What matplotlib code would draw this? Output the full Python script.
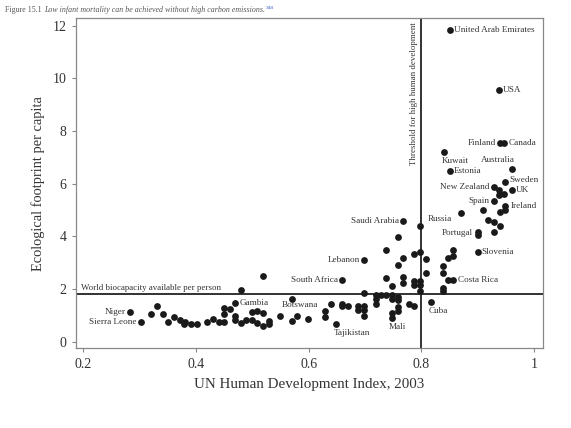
import matplotlib
matplotlib.use("Agg")
import matplotlib.pyplot as plt

# unlabelled countries (HDI 2003, footprint per capita)
hdi = [0.320, 0.331, 0.341, 0.351, 0.361, 0.371, 0.380, 0.378, 0.391, 0.401,
       0.420, 0.431, 0.440, 0.450, 0.450, 0.450, 0.460, 0.470, 0.470, 0.480,
       0.480, 0.489, 0.499, 0.499, 0.509, 0.509, 0.519, 0.519, 0.529, 0.529,
       0.519, 0.549, 0.570, 0.580, 0.599, 0.629, 0.629, 0.639, 0.659, 0.659,
       0.669, 0.687, 0.687, 0.699, 0.699, 0.699, 0.699, 0.719, 0.719, 0.719,
       0.729, 0.738, 0.748, 0.748, 0.758, 0.758, 0.778, 0.787, 0.758, 0.758,
       0.748, 0.787, 0.797, 0.787, 0.797, 0.797, 0.768, 0.768, 0.748, 0.738,
       0.758, 0.768, 0.787, 0.797, 0.808, 0.808, 0.738, 0.758, 0.838, 0.838,
       0.848, 0.857, 0.857, 0.848, 0.838, 0.838, 0.938, 0.938, 0.946, 0.909,
       0.870, 0.949, 0.939, 0.919, 0.929, 0.939, 0.929, 0.900]
footprint = [1.07, 1.37, 1.06, 0.75, 0.95, 0.84, 0.73, 0.66, 0.67, 0.67,
             0.75, 0.85, 0.75, 0.76, 1.27, 1.05, 1.25, 0.96, 0.84, 0.71,
             1.95, 0.84, 1.13, 0.84, 1.15, 0.71, 1.09, 0.58, 0.77, 0.67,
             2.48, 0.96, 0.77, 0.96, 0.86, 1.18, 0.94, 1.44, 1.44, 1.34,
             1.36, 1.36, 1.21, 1.36, 1.21, 0.96, 1.84, 1.77, 1.61, 1.44,
             1.77, 1.77, 1.77, 1.61, 1.70, 1.58, 1.44, 1.36, 1.32, 1.15,
             1.09, 2.30, 2.30, 2.14, 2.14, 1.94, 2.47, 2.24, 2.11, 2.43,
             2.91, 3.19, 3.32, 3.42, 3.13, 2.62, 3.48, 3.98, 2.88, 2.62,
             3.17, 3.48, 3.25, 2.34, 2.03, 1.92, 5.77, 5.57, 5.62, 5.00,
             4.90, 5.01, 4.91, 4.61, 4.53, 4.40, 4.18, 4.06]

# labelled countries
names = ["United Arab Emirates", "USA", "Finland", "Canada", "Kuwait",
         "Australia", "Estonia", "Sweden", "New Zealand", "UK", "Spain",
         "Ireland", "Saudi Arabia", "Russia", "Portugal", "Slovenia",
         "Lebanon", "South Africa", "Costa Rica", "Cuba", "Mali",
         "Tajikistan", "Botswana", "Gambia", "Niger", "Sierra Leone"]
name_hdi = [0.851, 0.938, 0.940, 0.947, 0.841,
            0.961, 0.851, 0.949, 0.929, 0.961, 0.929,
            0.949, 0.768, 0.797, 0.900, 0.900,
            0.699, 0.659, 0.857, 0.817, 0.748,
            0.649, 0.570, 0.470, 0.282, 0.302]
name_fp = [11.82, 9.54, 7.55, 7.55, 7.22,
           6.57, 6.47, 6.05, 5.88, 5.77, 5.36,
           5.14, 4.59, 4.40, 4.17, 3.42,
           3.10, 2.34, 2.34, 1.52, 0.90,
           0.68, 1.63, 1.46, 1.13, 0.73]

biocapacity = 1.8
threshold = 0.8

# label placement: (dx, dy) in points, horizontal alignment
place = {
    "Finland": (-3, 0, "right"), "Kuwait": (-2, -6.5, "left"),
    "Australia": (-10, 6, "center"), "Sweden": (3, 1.5, "left"),
    "New Zealand": (-3, 0, "right"), "Spain": (-3, 0, "right"),
    "Ireland": (4, 0, "left"), "Saudi Arabia": (-3, 0, "right"),
    "Russia": (6, 5, "left"), "Portugal": (-3.5, -1, "right"),
    "Lebanon": (-3, 0, "right"), "South Africa": (-3, 0, "right"),
    "Cuba": (-1.5, -6.5, "left"), "Mali": (4, -6.5, "center"),
    "Tajikistan": (-1.5, -6.5, "left"), "Botswana": (6, -4.5, "center"),
    "Niger": (-3, 0, "right"), "Sierra Leone": (-3, 0, "right"),
}

plt.rcParams['font.family'] = ['Liberation Serif', 'DejaVu Serif']

fig = plt.figure(figsize=(5.71, 4.28), dpi=100)
ax = fig.add_axes([0.1331, 0.1862, 0.8173, 0.7706])

ax.axhline(biocapacity, color='#222222', lw=1.3, zorder=1)
ax.axvline(threshold, color='#222222', lw=1.3, zorder=1)

ax.scatter(hdi, footprint, s=24, color='#1a1a1a', lw=0, zorder=3)
ax.scatter(name_hdi, name_fp, s=24, color='#1a1a1a', lw=0, zorder=3)

for n, x, y in zip(names, name_hdi, name_fp):
    dx, dy, ha = place.get(n, (3, 0, "left"))
    ax.annotate(n, (x, y), xytext=(dx, dy), textcoords='offset points',
                ha=ha, va='center', fontsize=6.6, color='#333333')

ax.annotate("World biocapacity available per person", (0.187, biocapacity),
            xytext=(3.5, 1.5), textcoords='offset points', ha='left',
            va='bottom', fontsize=6.4, color='#333333')
ax.annotate("Threshold for high human development", (threshold, 12.27),
            xytext=(-2.5, -3), textcoords='offset points', ha='right',
            va='top', rotation=90, fontsize=6.4, color='#333333')

ax.set_xlim(0.187, 1.0155)
ax.set_ylim(-0.25, 12.27)
ax.set_xticks([0.2, 0.4, 0.6, 0.8, 1.0])
ax.set_xticklabels(["0.2", "0.4", "0.6", "0.8", "1"])
ax.set_yticks([0, 2, 4, 6, 8, 10, 12])
ax.tick_params(direction='out', length=3, width=0.8, color='#888888',
               labelsize=10, labelcolor='#333333', pad=4)
for s in ax.spines.values():
    s.set_color('#888888')
    s.set_linewidth(0.9)

ax.set_xlabel("UN Human Development Index, 2003", fontsize=10.8,
              color='#333333', labelpad=5)
ax.set_ylabel("Ecological footprint per capita", fontsize=10.4,
              color='#333333', labelpad=5)

# caption above the chart
r = fig.canvas.get_renderer()
t1 = fig.text(5 / 571, 1 - 10 / 428, "Figure 15.1 ", fontsize=5.7,
              color='#555555', va='center')
e = t1.get_window_extent(r)
t2 = fig.text(e.x1 / 571, 1 - 10 / 428,
              "Low infant mortality can be achieved without high carbon emissions.",
              fontsize=5.7, style='italic', color='#555555', va='center')
e = t2.get_window_extent(r)
fig.text(e.x1 / 571 + 0.002, 1 - 8 / 428, "348", fontsize=3.8,
         color='#3355cc', va='center')

fig.savefig("out.png", dpi=100)
